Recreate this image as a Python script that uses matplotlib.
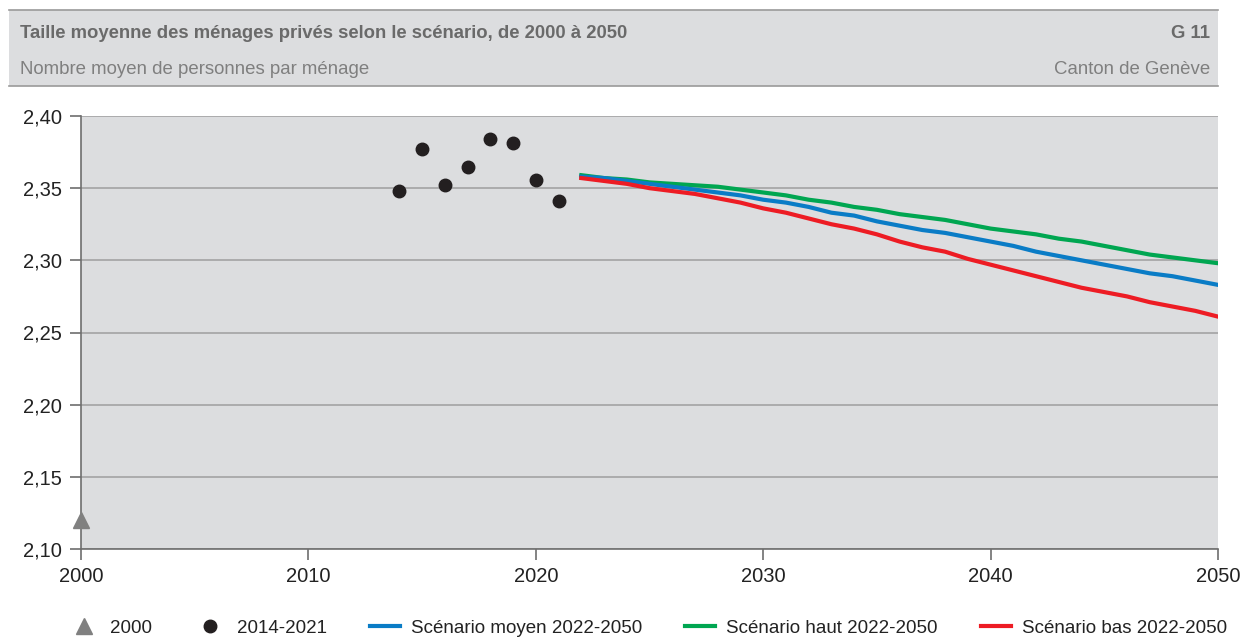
import matplotlib
matplotlib.use("Agg")
import matplotlib.pyplot as plt
from matplotlib.lines import Line2D
from matplotlib.patches import Rectangle
from matplotlib.ticker import FuncFormatter

plt.rcParams["font.family"] = ["Liberation Sans", "DejaVu Sans"]

# Observed values
year_2000 = [2000]
size_2000 = [2.12]
years_obs = [2014, 2015, 2016, 2017, 2018, 2019, 2020, 2021]
size_obs = [2.348, 2.377, 2.352, 2.365, 2.384, 2.381, 2.356, 2.341]

# Scenarios 2022-2050
years_proj = list(range(2022, 2051))
moyen = [2.358, 2.357, 2.355, 2.353, 2.351, 2.349, 2.347, 2.345, 2.342, 2.340,
         2.337, 2.333, 2.331, 2.327, 2.324, 2.321, 2.319, 2.316, 2.313, 2.310,
         2.306, 2.303, 2.300, 2.297, 2.294, 2.291, 2.289, 2.286, 2.283]
haut = [2.359, 2.357, 2.356, 2.354, 2.353, 2.352, 2.351, 2.349, 2.347, 2.345,
        2.342, 2.340, 2.337, 2.335, 2.332, 2.330, 2.328, 2.325, 2.322, 2.320,
        2.318, 2.315, 2.313, 2.310, 2.307, 2.304, 2.302, 2.300, 2.298]
bas = [2.357, 2.355, 2.353, 2.350, 2.348, 2.346, 2.343, 2.340, 2.336, 2.333,
       2.329, 2.325, 2.322, 2.318, 2.313, 2.309, 2.306, 2.301, 2.297, 2.293,
       2.289, 2.285, 2.281, 2.278, 2.275, 2.271, 2.268, 2.265, 2.261]

yticks = [2.10, 2.15, 2.20, 2.25, 2.30, 2.35, 2.40]
xticks = [2000, 2010, 2020, 2030, 2040, 2050]

PANEL = "#DCDDDF"
GRID = "#A3A3A3"
AXIS = "#6E6E6E"
BLUE, GREEN, RED = "#0A7CC6", "#00A651", "#ED1C24"
W, H = 1241, 637

fig = plt.figure(figsize=(W / 100, H / 100), dpi=100)

# header band
band = Rectangle((9 / W, 1 - 86 / H), (1218 - 9) / W, 76 / H,
                 transform=fig.transFigure, facecolor=PANEL, edgecolor="none")
fig.patches.append(band)
for yy in (1 - 10 / H, 1 - 86 / H):
    fig.add_artist(Line2D([9 / W, 1218 / W], [yy, yy], transform=fig.transFigure,
                          color="#9A9A9A", lw=1.2))
fig.text(20 / W, 1 - 33 / H, "Taille moyenne des ménages privés selon le scénario, de 2000 à 2050",
         fontsize=13.3, fontweight="bold", color="#6A6A6A", va="center", ha="left")
fig.text(1210 / W, 1 - 33 / H, "G 11", fontsize=13.3, fontweight="bold",
         color="#6A6A6A", va="center", ha="right")
fig.text(20 / W, 1 - 69 / H, "Nombre moyen de personnes par ménage",
         fontsize=13.4, color="#7F7F7F", va="center", ha="left")
fig.text(1210 / W, 1 - 69 / H, "Canton de Genève",
         fontsize=13.4, color="#7F7F7F", va="center", ha="right")

ax = fig.add_axes([81 / W, 1 - 549 / H, (1218 - 81) / W, (549 - 116) / H])
ax.set_facecolor(PANEL)
ax.set_xlim(2000, 2050)
ax.set_ylim(2.10, 2.40)
ax.set_yticks(yticks)
ax.set_xticks(xticks)
ax.yaxis.set_major_formatter(FuncFormatter(lambda v, _: f"{v:.2f}".replace(".", ",")))
ax.grid(axis="y", color=GRID, lw=1.2)
ax.set_axisbelow(True)
for side in ("top", "right"):
    ax.spines[side].set_visible(False)
for side in ("left", "bottom"):
    ax.spines[side].set_color(AXIS)
    ax.spines[side].set_linewidth(1.2)
ax.tick_params(colors=AXIS, labelcolor="#222222", labelsize=14.5, length=8, width=1.2)
ax.tick_params(axis="x", pad=5)
ax.tick_params(axis="y", pad=6)

tri, = ax.plot(year_2000, size_2000, ls="none", marker="^", ms=11, color="#808080",
               clip_on=False, zorder=5)
dots, = ax.plot(years_obs, size_obs, ls="none", marker="o", ms=9, color="#231F20", zorder=5)
l_moy, = ax.plot(years_proj, moyen, color=BLUE, lw=3, zorder=4)
l_haut, = ax.plot(years_proj, haut, color=GREEN, lw=3, zorder=3)
l_bas, = ax.plot(years_proj, bas, color=RED, lw=3, zorder=4)

fig.legend([tri, dots, l_moy, l_haut, l_bas],
           ["2000", "2014-2021", "Scénario moyen 2022-2050",
            "Scénario haut 2022-2050", "Scénario bas 2022-2050"],
           loc="center left", bbox_to_anchor=(52 / W, 1 - 628 / H), ncol=5,
           frameon=False, fontsize=13.5, handlelength=1.6, columnspacing=2.3,
           handletextpad=0.6, labelcolor="#222222")

fig.savefig("out.png", dpi=100)
